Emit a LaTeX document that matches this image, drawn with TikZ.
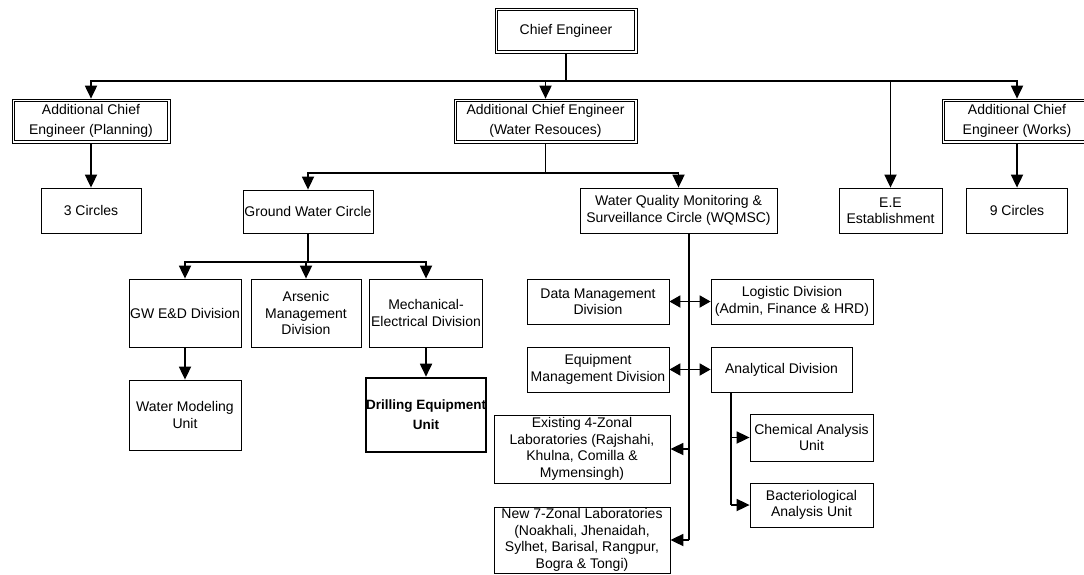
\documentclass[tikz,border=0pt]{standalone}
\usepackage{fontspec}
\setmainfont{Liberation Sans}
\usepackage{tikz}
\usetikzlibrary{arrows.meta}

\begin{document}
\begin{tikzpicture}
  [
    x=1pt, y=-1pt,
    Box/.style={rectangle, draw=black, line width=0.8pt, inner sep=0pt, align=center,
      font=\fontsize{14}{16.5}\selectfont},
    Double/.style={Box, line width=0.7pt, font=\fontsize{14}{20}\selectfont,
      path picture={\draw[line width=0.7pt]
        ([shift={(2.6pt,2.6pt)}]path picture bounding box.south west) rectangle
        ([shift={(-2.6pt,-2.6pt)}]path picture bounding box.north east);}},
    Bold/.style={Box, line width=2.6pt, font=\fontsize{13.5}{20}\selectfont\bfseries},
    Link/.style={draw, line width=1.8pt},
    Arrow/.style={Link, -{Triangle[length=13pt, width=12pt]}},
    BiArrow/.style={Link, {Triangle[length=11pt, width=12pt]}-{Triangle[length=11pt, width=12pt]}}
  ]
  \useasboundingbox (0, 0) rectangle (1084, 574);

  % Nodes
  \node[Double, minimum width=142, minimum height=45] (chief) at(566, 30.5) {Chief Engineer};

  \node[Double, minimum width=158, minimum height=44] (acePlan) at(91, 121) {Additional Chief\\Engineer (Planning)};
  \node[Double, minimum width=183, minimum height=44] (aceWater) at(545.5, 121) {Additional Chief Engineer\\(Water Resouces)};
  \node[Double, minimum width=150, minimum height=44] (aceWorks) at(1017, 121) {Additional Chief\\Engineer (Works)};

  \node[Box, minimum width=100, minimum height=45] (circ3) at(91, 210.5) {3 Circles};
  \node[Box, minimum width=130, minimum height=43] (gwc) at(308, 211.5) {Ground Water Circle};
  \node[Box, minimum width=197, minimum height=45] (wqmsc) at(678.5, 210.5) {Water Quality Monitoring \&\\Surveillance Circle (WQMSC)};
  \node[Box, minimum width=103, minimum height=45] (ee) at(890.5, 210.5) {E.E\\Establishment};
  \node[Box, minimum width=101, minimum height=45] (circ9) at(1017, 210.5) {9 Circles};

  \node[Box, minimum width=112, minimum height=68] (gwed) at(185, 313) {GW E\&D Division};
  \node[Box, minimum width=110, minimum height=68] (arsenic) at(306, 313) {Arsenic\\Management\\Division};
  \node[Box, minimum width=113, minimum height=68] (mech) at(426, 313) {Mechanical-\\Electrical Division};

  \node[Box, minimum width=112, minimum height=70] (wmu) at(185, 415) {Water Modeling\\Unit};
  \node[Bold, minimum width=119, minimum height=74] (drill) at(426, 415) {Drilling Equipment\\Unit};

  \node[Box, minimum width=142, minimum height=45] (datamgmt) at(598, 301.5) {Data Management\\Division};
  \node[Box, minimum width=162, minimum height=45] (logistic) at(792, 301.5) {Logistic Division\\(Admin, Finance \& HRD)};
  \node[Box, minimum width=142, minimum height=45] (equipmgmt) at(598, 369.5) {Equipment\\Management Division};
  \node[Box, minimum width=141, minimum height=45] (analytical) at(781.5, 369.5) {Analytical Division};

  \node[Box, minimum width=176, minimum height=68] (existing) at(582, 449) {Existing 4-Zonal\\Laboratories (Rajshahi,\\Khulna, Comilla \&\\Mymensingh)};
  \node[Box, minimum width=176, minimum height=66] (newlabs) at(582, 540) {New 7-Zonal Laboratories\\(Noakhali, Jhenaidah,\\Sylhet, Barisal, Rangpur,\\Bogra \& Tongi)};

  \node[Box, minimum width=123, minimum height=47] (chemical) at(811.5, 437.5) {Chemical Analysis\\Unit};
  \node[Box, minimum width=123, minimum height=44] (bact) at(811.5, 505) {Bacteriological\\Analysis Unit};

  % Junctions
  \coordinate (busTop) at(566, 81);
  \coordinate (busWater) at(545.5, 173);
  \coordinate (busGround) at(308, 262);
  \coordinate (spineTop) at(689, 233);
  \coordinate (spineLab) at(689, 449);
  \coordinate (spineBot) at(689, 540);
  \coordinate (anaTop) at(731, 392);
  \coordinate (anaChem) at(731, 437.5);
  \coordinate (anaBot) at(731, 505);

  % Lines
  \path [Link] (chief) -- (busTop);
  \path [Arrow] (busTop) -| (acePlan);
  \path [Arrow] (busTop) -| (aceWater);
  \path [Arrow] (busTop) -| (ee);
  \path [Arrow] (busTop) -| (aceWorks);

  \path [Arrow] (acePlan) -- (circ3);
  \path [Arrow] (aceWorks) -- (circ9);

  \path [Link] (aceWater) -- (busWater);
  \path [Arrow] (busWater) -| (gwc);
  \path [Arrow] (busWater) -| (wqmsc);

  \path [Link] (gwc) -- (busGround);
  \path [Arrow] (busGround) -| (gwed);
  \path [Arrow] (busGround) -| (arsenic);
  \path [Arrow] (busGround) -| (mech);
  \path [Arrow] (gwed) -- (wmu);
  \path [Arrow] (mech) -- (drill);

  \path [Link] (spineTop) -- (spineBot);
  \path [BiArrow] (datamgmt) -- (logistic);
  \path [BiArrow] (equipmgmt) -- (analytical);
  \path [Arrow] (spineLab) -- (existing);
  \path [Arrow] (spineBot) -- (newlabs);

  \path [Link] (anaTop) -- (anaBot);
  \path [Arrow] (anaChem) -- (chemical);
  \path [Arrow] (anaBot) -- (bact);

\end{tikzpicture}
\end{document}
